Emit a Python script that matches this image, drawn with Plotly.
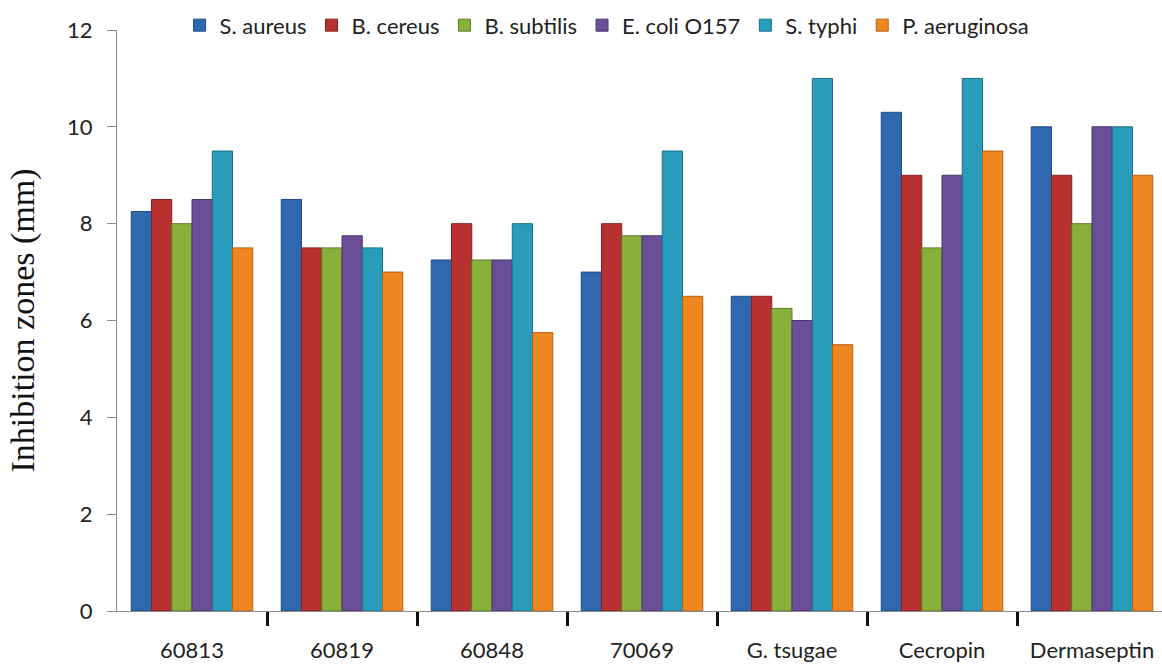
import plotly.graph_objects as go

# Inhibition zone diameters (mm) per test agent and bacterial strain
agents = ["60813", "60819", "60848", "70069", "G. tsugae", "Cecropin", "Dermaseptin"]
s_aureus = [8.25, 8.5, 7.25, 7.0, 6.5, 10.3, 10.0]
b_cereus = [8.5, 7.5, 8.0, 8.0, 6.5, 9.0, 9.0]
b_subtilis = [8.0, 7.5, 7.25, 7.75, 6.25, 7.5, 8.0]
e_coli = [8.5, 7.75, 7.25, 7.75, 6.0, 9.0, 10.0]
s_typhi = [9.5, 7.5, 8.0, 9.5, 11.0, 11.0, 10.0]
p_aeruginosa = [7.5, 7.0, 5.75, 6.5, 5.5, 9.5, 9.0]

series = [
    ("S. aureus", s_aureus, "#2f68ae", "#1d4a82"),
    ("B. cereus", b_cereus, "#b8302f", "#82201f"),
    ("B. subtilis", b_subtilis, "#88b03a", "#5e7d26"),
    ("E. coli O157", e_coli, "#6b4e98", "#4a346c"),
    ("S. typhi", s_typhi, "#2a9cbb", "#1b6f86"),
    ("P. aeruginosa", p_aeruginosa, "#f0861f", "#b35f12"),
]

label_font = "Lato, 'Open Sans', sans-serif"

fig = go.Figure()
for name, vals, fill, edge in series:
    fig.add_trace(go.Bar(
        name=name, x=agents, y=vals,
        marker=dict(color=fill, line=dict(color=edge, width=1)),
    ))

# boundary tick marks between agent groups
boundaries = [i + 0.5 for i in range(len(agents) - 1)]
fig.add_trace(go.Scatter(x=boundaries, y=[0] * len(boundaries), xaxis="x2",
                         mode="markers", marker=dict(opacity=0),
                         showlegend=False, hoverinfo="skip"))

x_end = -0.5 + 1045 / 150.0

fig.update_layout(
    width=1162, height=666,
    margin=dict(l=117, r=0, t=30, b=55, autoexpand=False),
    paper_bgcolor="white", plot_bgcolor="white",
    barmode="group", bargap=0.19, bargroupgap=0,
    font=dict(family=label_font, size=22, color="#222222"),
    legend=dict(orientation="h", x=0.469, xanchor="center", y=1.008, yanchor="middle",
                font=dict(family=label_font, size=22, color="#222222"),
                itemwidth=30, tracegroupgap=0, bgcolor="rgba(0,0,0,0)"),
    xaxis=dict(type="category", range=[-0.5, x_end], showgrid=False,
               showline=True, linecolor="#8c8c8c", linewidth=1,
               ticks="", ticklabelstandoff=20,
               tickfont=dict(family=label_font, size=22, color="#222222")),
    xaxis2=dict(overlaying="x", anchor="y", side="bottom", type="linear",
                range=[-0.5, x_end], tickmode="array", tickvals=boundaries,
                ticks="outside", ticklen=14, tickwidth=3, tickcolor="#111111",
                showticklabels=False, showgrid=False, showline=False, zeroline=False),
    yaxis=dict(range=[0, 12], dtick=2, showgrid=False, zeroline=False,
               showline=True, linecolor="#8c8c8c", linewidth=1,
               ticks="outside", ticklen=9, tickcolor="#8c8c8c",
               ticklabelstandoff=10,
               tickfont=dict(family=label_font, size=22, color="#222222"),
               title=dict(text="Inhibition zones (mm)", standoff=22,
                          font=dict(family="'Liberation Serif', 'Times New Roman', serif",
                                    size=34, color="#111111"))),
)

fig.write_html("out.html")
